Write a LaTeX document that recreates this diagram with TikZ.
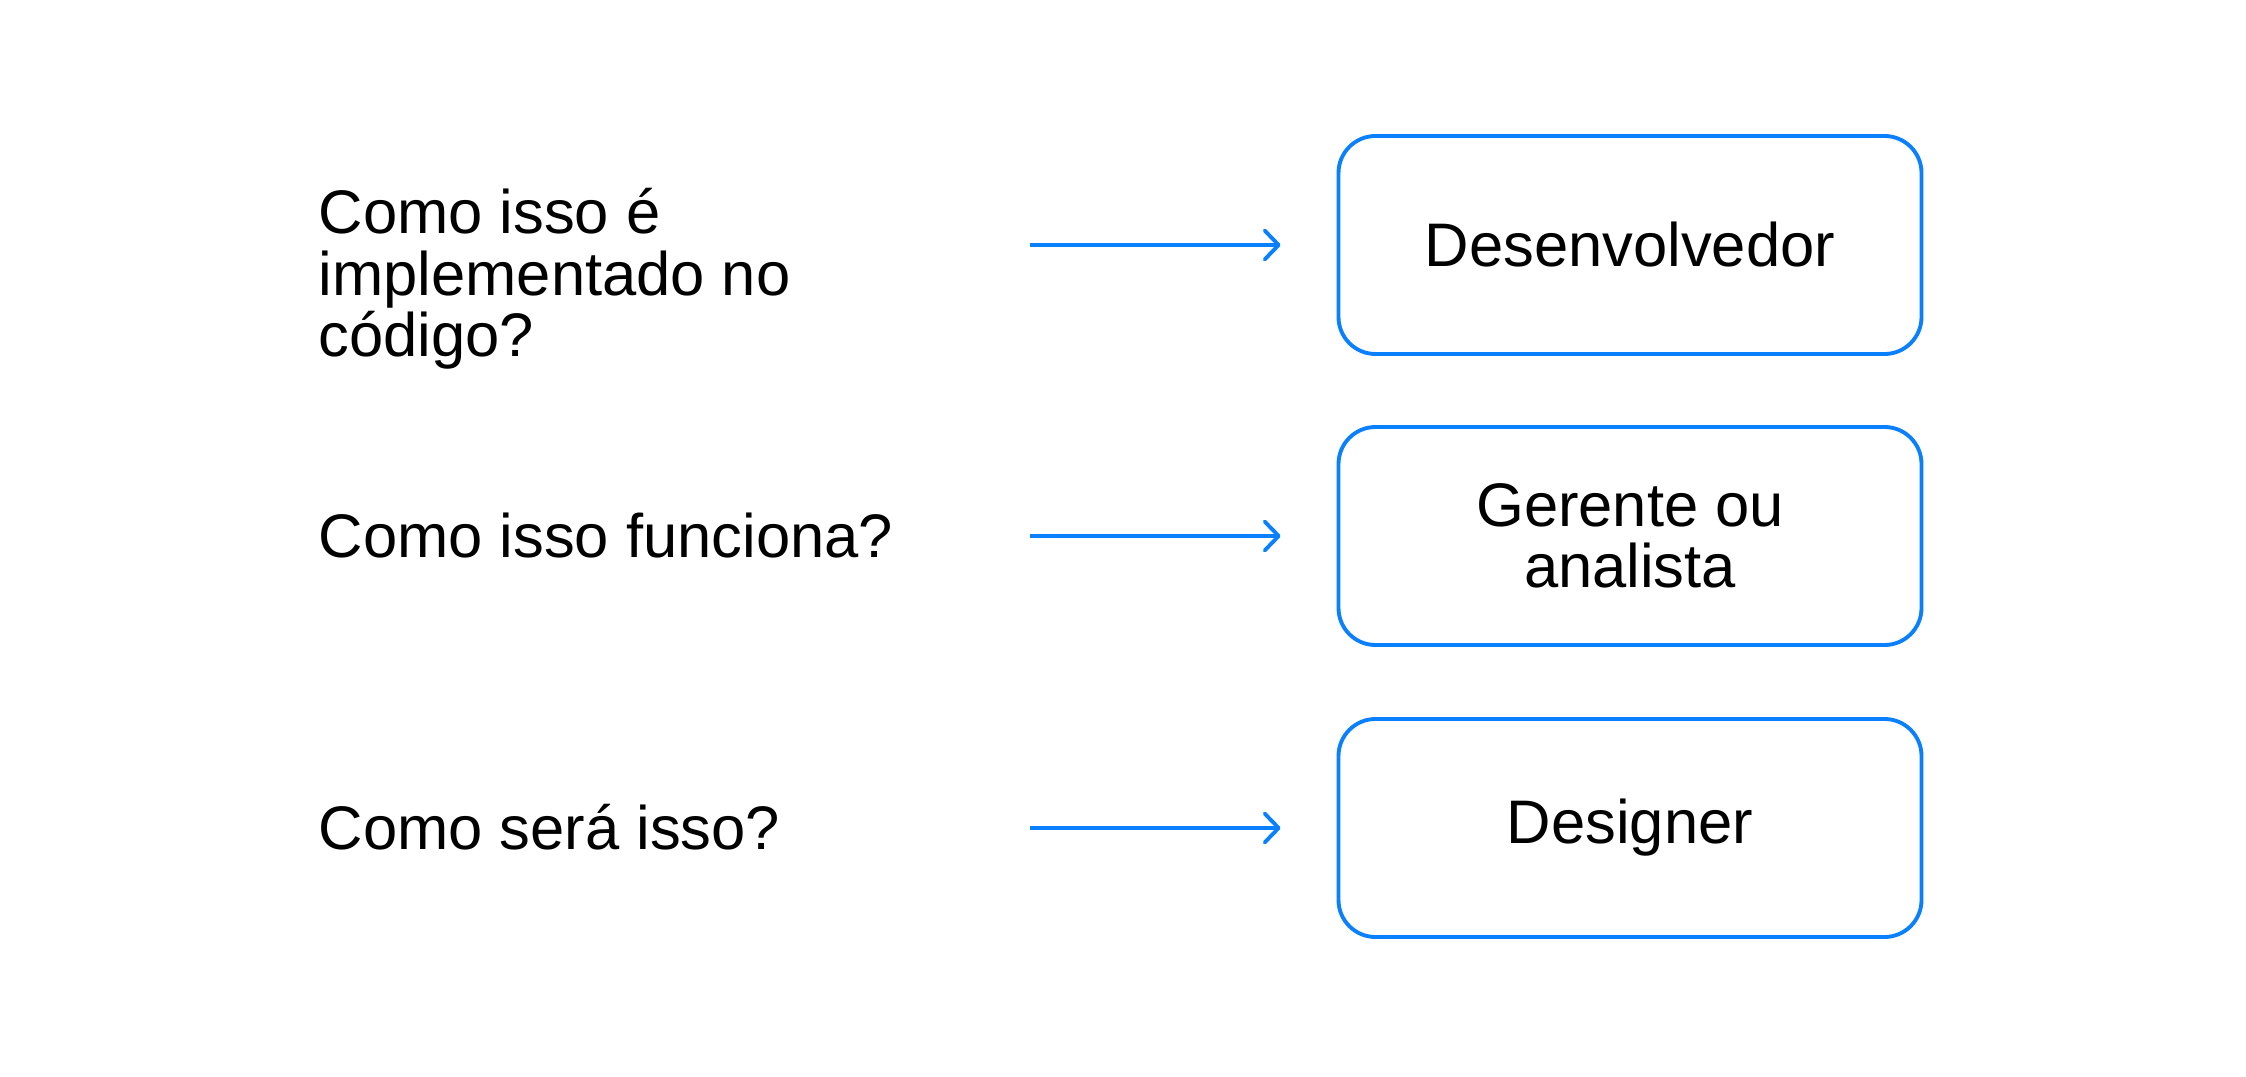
\documentclass[tikz,border=0pt]{standalone}
\usepackage{fontspec}
\setmainfont{Liberation Sans}
\usetikzlibrary{arrows.meta, positioning}
\definecolor{roleblue}{HTML}{0A80FF}

\begin{document}
\begin{tikzpicture}[
		role/.style={
			draw=roleblue,
			line width=1.1pt,
			rounded corners=0.37cm,
			minimum width=5.83cm,
			minimum height=2.18cm,
			align=center,
			font=\fontsize{17.5}{17.5}\selectfont,
			anchor=center,
		}, question/.style={
			anchor=west,
			align=left,
			inner sep=0pt,
			font=\fontsize{17.5}{17.5}\selectfont,
		}, link/.style={
			draw=roleblue,
			line width=1.1pt,
			-{Straight Barb[length=1.4mm, width=2.9mm, round]},
			shorten >=0.56cm,
		}, ]

\useasboundingbox (0,0) rectangle (22.46,10.76);

% ------ Questions ------- %
\draw
(3.18,7.97) node[question](q_code){Como isso é \\ implementado no \\ código?}
(3.18,5.40) node[question](q_works){Como isso funciona?}
(3.18,2.49) node[question](q_looks){Como será isso?}
;

% ------ Roles ------- %
\draw
(16.30,8.31) node[role](dev){Desenvolvedor}
(16.30,5.40) node[role](manager){Gerente ou \\ analista}
(16.30,2.48) node[role](designer){Designer}
;

% ------ Arrows ------- %
\coordinate (from_code) at (10.30,8.31);
\coordinate (from_works) at (10.30,5.40);
\coordinate (from_looks) at (10.30,2.48);

\draw [link] (from_code) -- (dev.west);
\draw [link] (from_works) -- (manager.west);
\draw [link] (from_looks) -- (designer.west);

\end{tikzpicture}
\end{document}
